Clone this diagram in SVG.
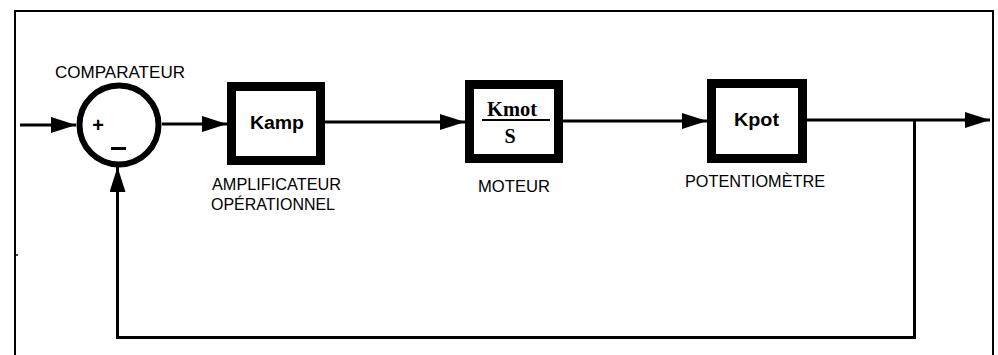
<svg xmlns="http://www.w3.org/2000/svg" width="998" height="355" viewBox="0 0 998 355">
  <style>
    .frame { fill: none; stroke: #000; stroke-width: 2; }
    .wire { fill: none; stroke: #000; stroke-width: 3; }
    .block { fill: #fff; stroke: #000; stroke-width: 9; }
    .sum { fill: #fff; stroke: #000; stroke-width: 6; }
    .label { font-family: "Liberation Sans", Arial, sans-serif; font-size: 17px; fill: #000; }
    .gain { font-family: "Liberation Sans", Arial, sans-serif; font-size: 18px; font-weight: bold; fill: #000; }
    .gainSerif { font-family: "Liberation Serif", "Times New Roman", serif; font-size: 20px; font-weight: bold; fill: #000; }
    .sign { font-family: "Liberation Sans", Arial, sans-serif; font-size: 20px; font-weight: bold; fill: #000; }
  </style>
  <defs>
    <marker id="arrow" markerUnits="userSpaceOnUse" markerWidth="26" markerHeight="18" refX="25" refY="8" orient="auto">
      <path d="M0,0 L25,8 L0,16 Z" fill="#000"/>
    </marker>
  </defs>

  <rect width="998" height="355" fill="#fff"/>

  <!-- outer frame (open at the bottom) -->
  <path class="frame" d="M15,355 V11 H993 V355"/>
  <rect x="16" y="254" width="2" height="2" fill="#444"/>

  <!-- connectors -->
  <g id="connectors">
    <line class="wire" x1="20" y1="125" x2="76" y2="125" marker-end="url(#arrow)"/>
    <line class="wire" x1="162" y1="124" x2="227" y2="124" marker-end="url(#arrow)"/>
    <line class="wire" x1="325" y1="122" x2="465" y2="122" marker-end="url(#arrow)"/>
    <line class="wire" x1="563" y1="121" x2="707" y2="121" marker-end="url(#arrow)"/>
    <line class="wire" x1="807" y1="120" x2="990" y2="120" marker-end="url(#arrow)"/>
    <path class="wire" d="M914.5,120 V337.5 H117.5 V167" marker-end="url(#arrow)"/>
  </g>

  <!-- comparator -->
  <g id="comparateur">
    <circle class="sum" cx="119" cy="125" r="39.5"/>
    <text class="sign" x="98" y="132" text-anchor="middle">+</text>
    <rect x="111" y="147" width="15" height="3" fill="#000"/>
    <text class="label" x="55" y="78" textLength="130" lengthAdjust="spacingAndGlyphs">COMPARATEUR</text>
  </g>

  <!-- amplifier -->
  <g id="amplificateur">
    <rect class="block" x="231.5" y="86.5" width="89" height="74"/>
    <text class="gain" x="250" y="129" textLength="54" lengthAdjust="spacingAndGlyphs">Kamp</text>
    <text class="label" x="212" y="190" textLength="129" lengthAdjust="spacingAndGlyphs">AMPLIFICATEUR</text>
    <text class="label" x="211" y="210" textLength="124" lengthAdjust="spacingAndGlyphs">OPÉRATIONNEL</text>
  </g>

  <!-- motor -->
  <g id="moteur">
    <rect class="block" x="469.5" y="84.5" width="89" height="74"/>
    <text class="gainSerif" x="487" y="116" textLength="50" lengthAdjust="spacingAndGlyphs">Kmot</text>
    <rect x="482" y="119" width="68" height="2" fill="#000"/>
    <text class="gainSerif" x="510" y="143" text-anchor="middle">S</text>
    <text class="label" x="478" y="192" textLength="72" lengthAdjust="spacingAndGlyphs">MOTEUR</text>
  </g>

  <!-- potentiometer -->
  <g id="potentiometre">
    <rect class="block" x="711.5" y="83.5" width="91" height="75"/>
    <text class="gain" x="734" y="126" textLength="45" lengthAdjust="spacingAndGlyphs">Kpot</text>
    <text class="label" x="685" y="187" textLength="140" lengthAdjust="spacingAndGlyphs">POTENTIOMÈTRE</text>
  </g>
</svg>
